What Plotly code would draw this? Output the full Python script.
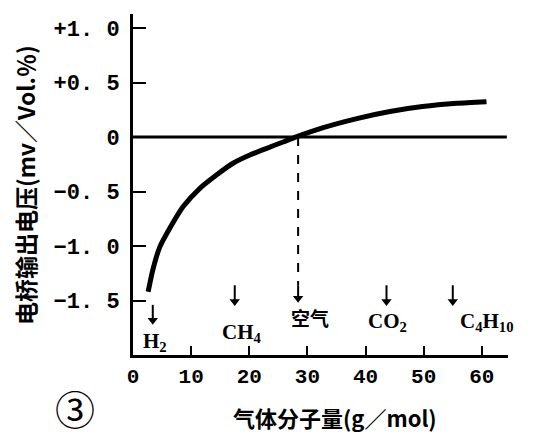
import plotly.graph_objects as go

# curve: bridge output voltage vs gas molecular weight
mw = [2.6, 3.4, 4.6, 6.4, 8.6, 11.5, 14.3, 17.2, 20.1, 22.9, 25.8, 28.2, 32.6, 38.5, 44.2, 49.8, 55.7, 60.8]
voltage = [-1.42, -1.22, -1.01, -0.83, -0.64, -0.47, -0.35, -0.24, -0.165, -0.105, -0.045, 0.005,
           0.085, 0.17, 0.235, 0.28, 0.31, 0.325]

# gas markers
gas_names = ["H<sub>2</sub>", "CH<sub>4</sub>", "空气", "CO<sub>2</sub>", "C<sub>4</sub>H<sub>10</sub>"]
gas_x = [3.4, 17.5, 28.4, 43.6, 55.0]
arrow_top_y = [-1.54, -1.36, -1.36, -1.36, -1.36]
arrow_tip_y = [-1.72, -1.55, -1.52, -1.55, -1.55]
label_x = [3.8, 18.8, 30.4, 43.7, 60.9]
label_y = [-1.88, -1.80, -1.66, -1.70, -1.70]

y_ticks = [1.0, 0.5, 0, -0.5, -1.0, -1.5]
y_tick_text = ["+1. 0", "+0. 5", "0", "−0. 5", "−1. 0", "−1. 5"]
x_ticks = [0, 10, 20, 30, 40, 50, 60]
x_tick_text = ["0", "10", "20", "30", "40", "50", "60"]

SERIF = "Liberation Serif"
MONO = "Liberation Mono"
CJK = "Noto Sans CJK SC"

fig = go.Figure()
fig.add_trace(go.Scatter(x=mw, y=voltage, mode="lines",
                         line=dict(color="black", width=5, shape="spline", smoothing=0.6),
                         hoverinfo="skip", showlegend=False))
# zero line
fig.add_trace(go.Scatter(x=[0, 64.3], y=[0, 0], mode="lines",
                         line=dict(color="black", width=3),
                         hoverinfo="skip", showlegend=False))
# dashed line for air
air_i = 2
fig.add_trace(go.Scatter(x=[gas_x[air_i], gas_x[air_i]], y=[0, arrow_top_y[air_i]], mode="lines",
                         line=dict(color="black", width=2, dash="dash"),
                         hoverinfo="skip", showlegend=False))

# arrows: shaft + triangle head
for gx, ty, tt in zip(gas_x, arrow_top_y, arrow_tip_y):
    fig.add_trace(go.Scatter(x=[gx, gx], y=[ty, tt + 0.05], mode="lines",
                             line=dict(color="black", width=2),
                             hoverinfo="skip", showlegend=False))
fig.add_trace(go.Scatter(x=gas_x, y=[t + 0.04 for t in arrow_tip_y], mode="markers",
                         marker=dict(symbol="triangle-down", size=9, color="black"),
                         hoverinfo="skip", showlegend=False))

annotations = []
for name, lx, ly in zip(gas_names, label_x, label_y):
    fam = CJK if name == "空气" else SERIF
    annotations.append(dict(x=lx, y=ly, xref="x", yref="y", text=name, showarrow=False,
                            xanchor="center", yanchor="middle",
                            font=dict(family=fam, size=21 if fam == SERIF else 19, color="black",
                                      weight="bold")))

# page body has an 8px margin: compensate so the plot lands where the reference has it
OFF = 8
W, H = 539 - OFF, 439 - OFF
PL, PR, PT, PB = 133, 508, 14, 355   # plot area in window pixels
ml, mr, mt, mb = PL - OFF, 539 - PR, PT - OFF, 439 - PB
pw, ph = PR - PL, PB - PT


def px2paper(px, py):
    return (px - PL) / pw, (PB - py) / ph


ax_, ay_ = px2paper(25, 185)
annotations.append(dict(x=ax_, y=ay_, xref="paper", yref="paper", text="<b>电桥输出电压(mv／Vol.％)</b>",
                        showarrow=False, textangle=-90, xanchor="center", yanchor="middle",
                        font=dict(family=CJK, size=23, color="black")))
ax_, ay_ = px2paper(335, 417)
annotations.append(dict(x=ax_, y=ay_, xref="paper", yref="paper", text="<b>气体分子量(g／mol)</b>",
                        showarrow=False, xanchor="center", yanchor="middle",
                        font=dict(family=CJK, size=22, color="black")))
ax_, ay_ = px2paper(75, 408)
annotations.append(dict(x=ax_, y=ay_, xref="paper", yref="paper", text="③",
                        showarrow=False, xanchor="center", yanchor="middle",
                        font=dict(family=CJK, size=40, color="black")))

fig.update_layout(
    template="none",
    width=W, height=H,
    margin=dict(l=ml, r=mr, t=mt, b=mb, pad=0, autoexpand=False),
    paper_bgcolor="white", plot_bgcolor="white",
    annotations=annotations,
    xaxis=dict(range=[0, 64.5], automargin=False, showgrid=False, zeroline=False, showline=True,
               linecolor="black", linewidth=3, ticks="inside", ticklen=9, tickwidth=2,
               tickcolor="black", tickvals=x_ticks, ticktext=x_tick_text,
               tickfont=dict(family=MONO, size=21, color="black", weight="bold")),
    yaxis=dict(range=[-2.0, 1.13], automargin=False, showgrid=False, zeroline=False, showline=True,
               linecolor="black", linewidth=3, ticks="inside", ticklen=13, tickwidth=2,
               tickcolor="black", tickvals=y_ticks, ticktext=y_tick_text, ticklabelstandoff=6,
               tickfont=dict(family=MONO, size=22, color="black", weight="bold")),
)

fig.write_html("out.html")
